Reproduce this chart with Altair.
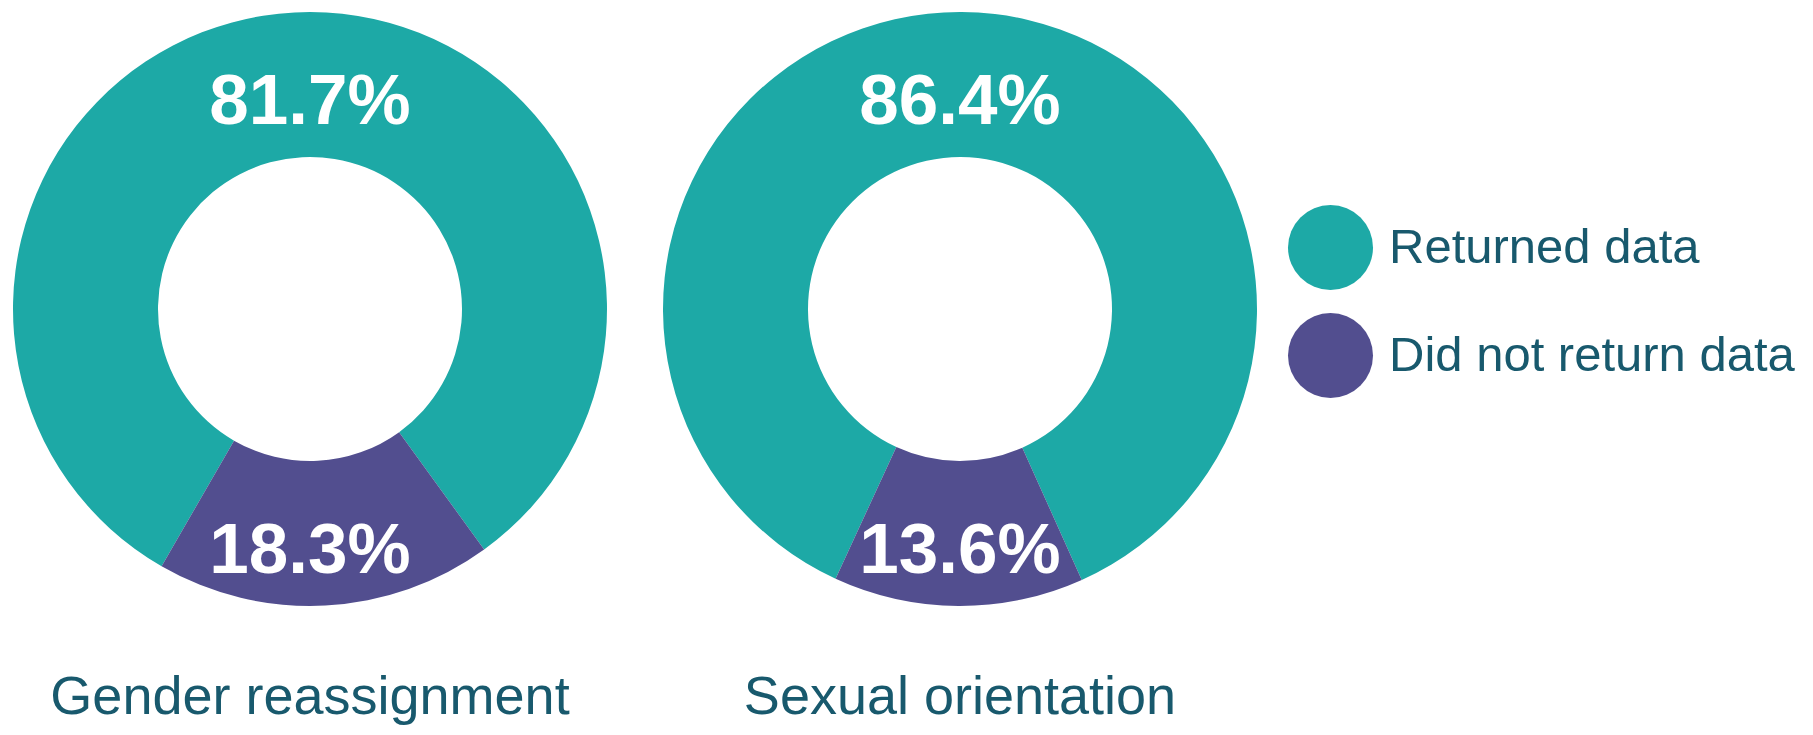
import math
import altair as alt
import pandas as pd

# ---- data ----
PANELS = ["Gender reassignment", "Sexual orientation"]
CATEGORIES = ["Returned data", "Did not return data"]
RETURNED = [81.7, 86.4]
NOT_RETURNED = [18.3, 13.6]
# start angle (degrees clockwise from north) of the "Did not return data" slice
START_DEG = [144.1, 155.8]

# ---- styling ----
COLORS = ["#1DA9A6", "#524E8F"]
TEXT_COLOR = "#18596D"
SANS = "Liberation Sans, Arial, sans-serif"

rows = []
for p, r, n in zip(PANELS, RETURNED, NOT_RETURNED):
    rows.append({"panel": p, "category": CATEGORIES[0], "value": r, "label": f"{r:.1f}%"})
    rows.append({"panel": p, "category": CATEGORIES[1], "value": n, "label": f"{n:.1f}%"})
df = pd.DataFrame(rows)

x_enc = alt.X(
    "panel:N",
    scale=alt.Scale(type="point", domain=PANELS, range=[302, 952], padding=0),
    axis=None,
)
y_center = alt.value(301)
order_enc = alt.Order("category:N", sort="ascending")
color_enc = alt.Color(
    "category:N",
    scale=alt.Scale(domain=CATEGORIES, range=COLORS),
    legend=alt.Legend(
        title=None,
        orient="none",
        legendX=1280,
        legendY=197,
        symbolType="circle",
        symbolSize=7225,
        symbolStrokeWidth=0,
        symbolOpacity=1,
        labelFont=SANS,
        labelFontSize=49,
        labelColor=TEXT_COLOR,
        labelOffset=16,
        labelLimit=1000,
        rowPadding=23,
        padding=0,
    ),
)

layers = []
for i, p in enumerate(PANELS):
    base = alt.Chart(df).transform_filter(alt.datum.panel == p)
    s = math.radians(START_DEG[i])
    arc = base.mark_arc(outerRadius=297, innerRadius=152, stroke=None).encode(
        theta=alt.Theta("value:Q", stack=True, scale=alt.Scale(range=[s, s + 2 * math.pi])),
        color=color_enc,
        order=order_enc,
        x=x_enc,
        y=y_center,
    )
    st = math.pi - math.pi * NOT_RETURNED[i] / 100.0
    text = base.mark_text(
        radius=224.5,
        dy=39.5,
        baseline="alphabetic",
        align="center",
        font=SANS,
        fontSize=71,
        fontWeight="bold",
        color="white",
    ).encode(
        theta=alt.Theta("value:Q", stack=True, scale=alt.Scale(range=[st, st + 2 * math.pi])),
        text="label:N",
        order=order_enc,
        x=x_enc,
        y=y_center,
    )
    layers += [arc, text]

titles = alt.Chart(pd.DataFrame({"panel": PANELS})).mark_text(
    font=SANS, fontSize=54, color=TEXT_COLOR, baseline="alphabetic", align="center"
).encode(x=x_enc, y=alt.value(706), text="panel:N")

chart = (
    alt.layer(*layers, titles)
    .resolve_scale(theta="independent")
    .properties(
        width=1797,
        height=719,
        autosize=alt.AutoSizeParams(type="none"),
        padding=0,
        background="white",
    )
    .configure_view(stroke=None)
)

chart.save("out.html", embed_options={"renderer": "svg", "actions": False})
